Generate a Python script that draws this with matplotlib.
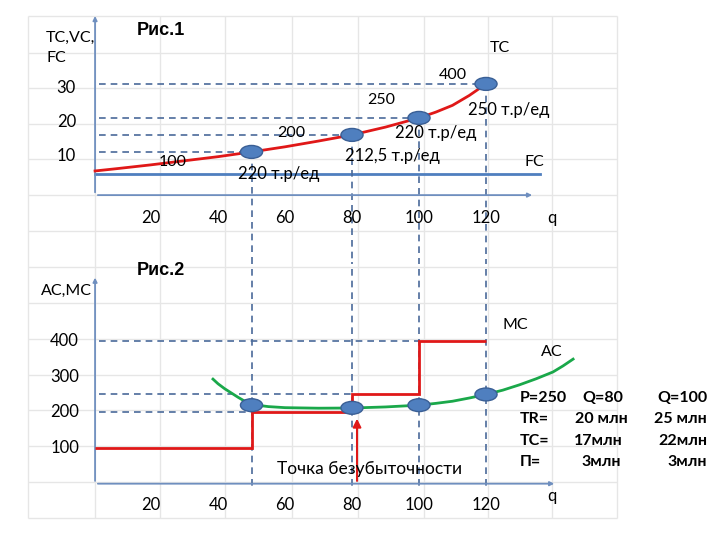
import matplotlib.pyplot as plt
from matplotlib.patches import Ellipse

plt.rcParams['font.family'] = ['Lato', 'DejaVu Sans']

# data
q_pts = [50, 80, 100, 120]
tc_pts = [11.2, 16.2, 21.2, 31.2]
tc_q = [3.3, 10, 20, 30, 40, 50, 60, 70, 80, 90, 100, 105, 110, 115, 120]
tc_v = [5.6, 6.3, 7.4, 8.6, 9.8, 11.2, 12.7, 14.4, 16.2, 18.5, 21.2, 22.9, 24.9, 27.8, 31.2]
fc_val = 4.7
seg_labels = ['100', '200', '250', '400']
unit_labels = ['220 т.р/ед', '212,5 т.р/ед', '220 т.р/ед', '250 т.р/ед']

ac_pts = [220, 212.5, 220, 250]
ac_q = [38.5, 40, 42, 44, 46, 48, 50, 55, 60, 70, 80, 90, 100, 105, 110, 115,
        120, 125, 130, 135, 140, 143, 146]
ac_v = [293, 280, 266, 254, 242, 231, 222, 216, 213, 211.5, 212, 215, 220, 225,
        231, 240, 250, 262, 277, 294, 313, 330, 349]
mc_edges = [3.3, 50, 80, 100, 120]
mc_vals = [100, 200, 250, 400]

xticks = [20, 40, 60, 80, 100, 120]
yticks_top = [10, 20, 30]
yticks_bot = [100, 200, 300, 400]

table_rows = [['P=250', 'Q=80', 'Q=100'],
              ['TR=', '20 млн', '25 млн'],
              ['TC=', '17млн', '22млн'],
              ['П=', '3млн', '3млн']]

W, H = 720, 540
fig = plt.figure(figsize=(7.2, 5.4), dpi=100)

# background grid (slide drawing)
bg = fig.add_axes([0, 0, 1, 1], zorder=0)
bg.set_xlim(0, W)
bg.set_ylim(H, 0)
bg.axis('off')
gx = [28, 95, 160, 225, 292, 358, 424, 488, 552, 617]
gy = [16, 53, 88, 124, 159, 195, 231, 267, 303, 339, 375, 410, 446, 482, 518]
bg.vlines(gx, 16, 518, color='#e6e6e6', lw=1)
bg.hlines(gy, 28, 617, color='#e6e6e6', lw=1)

axis_c = '#6f8fbf'
dash_c = '#4a6a9a'
dot_c = '#4f7fbf'
red = '#e01818'
green = '#1aa84a'
fs = 11.5
bold_font = ['Liberation Sans', 'DejaVu Sans']


def px_axes(x0, x1, y0, y1):
    a = fig.add_axes([x0 / W, 1 - y1 / H, (x1 - x0) / W, (y1 - y0) / H], zorder=1)
    a.patch.set_alpha(0)
    a.axis('off')
    return a


# ---------- Рис.1 ----------
ax1 = px_axes(84, 600, 8, 262)
ax1.set_xlim(0, 516 / 3.35)
ax1.set_ylim((190 - 262) / 3.4, (190 - 8) / 3.4)
y0 = -1.5
ax1.annotate('', xy=(3.3, 52), xytext=(3.3, y0),
             arrowprops=dict(arrowstyle='-|>', color=axis_c, lw=1.3, mutation_scale=6))
ax1.annotate('', xy=(134.6, y0), xytext=(3.3, y0),
             arrowprops=dict(arrowstyle='-|>', color=axis_c, lw=1.3, mutation_scale=6))
ax1.plot([3.3, 136], [fc_val, fc_val], color='#4f7fbf', lw=2)
for q, v in zip(q_pts, tc_pts):
    ax1.plot([4.5, q], [v, v], ls=(0, (4, 3)), color=dash_c, lw=1.2)
    ax1.plot([q, q], [v, -30], ls=(0, (4, 3)), color=dash_c, lw=1.2)
ax1.plot(tc_q, tc_v, color=red, lw=2, zorder=3, solid_joinstyle='round')
for q, v in zip(q_pts, tc_pts):
    ax1.add_patch(Ellipse((q, v), 6.6, 3.8, fc=dot_c, ec='#3a5f95', lw=1, zorder=4))
for t in xticks:
    ax1.text(t, -8.2, str(t), ha='center', va='center', fontsize=12)
for t in yticks_top:
    ax1.text(-2.4, t, str(t), ha='right', va='center', fontsize=12)
ax1.text(138.2, -8.2, 'q', ha='left', va='center', fontsize=12)
ax1.text(-11.3, 44.7, 'TC,VC,', ha='left', va='center', fontsize=fs)
ax1.text(-11.3, 38.8, 'FC', ha='left', va='center', fontsize=fs)
ax1.text(15.8, 46.8, 'Рис.1', ha='left', va='center', fontsize=13,
         fontweight='bold', family=bold_font)
ax1.text(121.2, 41.8, 'TC', ha='left', va='center', fontsize=fs)
ax1.text(131.6, 8.2, 'FC', ha='left', va='center', fontsize=fs)
seg_pos = [(26.6, 8.2), (61.8, 16.8), (88.7, 26.5), (110.1, 33.8)]
for (x, y), s in zip(seg_pos, seg_labels):
    ax1.text(x, y, s, ha='center', va='center', fontsize=fs)
unit_pos = [(46, 4.7), (77.9, 10), (92.8, 16.8), (114.6, 23.5)]
for (x, y), s in zip(unit_pos, unit_labels):
    ax1.text(x, y, s, ha='left', va='center', fontsize=12)

# ---------- Рис.2 ----------
ax2 = px_axes(84, 600, 262, 532)
s2 = 0.357
ax2.set_xlim(0, 516 / 3.35)
ax2.set_ylim((483.7 - 532) / s2, (483.7 - 262) / s2)
ax2.annotate('', xy=(3.3, 585), xytext=(3.3, 0),
             arrowprops=dict(arrowstyle='-|>', color=axis_c, lw=1.3, mutation_scale=6))
ax2.annotate('', xy=(141.2, 0), xytext=(3.3, 0),
             arrowprops=dict(arrowstyle='-|>', color=axis_c, lw=1.3, mutation_scale=6))
for q in q_pts:
    ax2.plot([q, q], [700, -10], ls=(0, (4, 3)), color=dash_c, lw=1.2)
for e, v in zip(mc_edges[1:], mc_vals[1:]):
    ax2.plot([4.5, e], [v, v], ls=(0, (4, 3)), color=dash_c, lw=1.2)
ax2.stairs(mc_vals, mc_edges, baseline=None, color=red, lw=2, zorder=3)
ax2.plot(ac_q, ac_v, color=green, lw=2, zorder=3, solid_joinstyle='round')
for q, v in zip(q_pts, ac_pts):
    ax2.add_patch(Ellipse((q, v), 6.6, 36, fc=dot_c, ec='#3a5f95', lw=1, zorder=4))
ax2.annotate('', xy=(81.5, 190), xytext=(81.5, 0),
             arrowprops=dict(arrowstyle='-|>', color=red, lw=1.5, mutation_scale=12))
for t in xticks:
    ax2.text(t, -60, str(t), ha='center', va='center', fontsize=12)
for t in yticks_bot:
    ax2.text(-1.5, t, str(t), ha='right', va='center', fontsize=12)
ax2.text(138.2, -35, 'q', ha='left', va='center', fontsize=12)
ax2.text(-12.8, 539, 'AC,MC', ha='left', va='center', fontsize=fs)
ax2.text(15.8, 598, 'Рис.2', ha='left', va='center', fontsize=13,
         fontweight='bold', family=bold_font)
ax2.text(124.8, 444, 'MC', ha='left', va='center', fontsize=fs)
ax2.text(136.4, 369, 'AC', ha='left', va='center', fontsize=fs)
ax2.text(57.6, 41, 'Точка безубыточности', ha='left', va='center', fontsize=12.5)

# text block on the right, positions in pixels of the slide
col1_x = 520
col2_x = [582, 575, 574, 581]
col3_right = 707
row_y = [398, 419, 441, 462]
for r, row in enumerate(table_rows):
    y = (483.7 - row_y[r]) / s2
    ax2.text((col1_x - 84) / 3.35, y, row[0], ha='left', va='center',
             fontsize=fs, fontweight='bold')
    ax2.text((col2_x[r] - 84) / 3.35, y, row[1], ha='left', va='center',
             fontsize=fs, fontweight='bold')
    ax2.text((col3_right - 84) / 3.35, y, row[2], ha='right', va='center',
             fontsize=fs, fontweight='bold')

fig.savefig('out.png', dpi=100)
